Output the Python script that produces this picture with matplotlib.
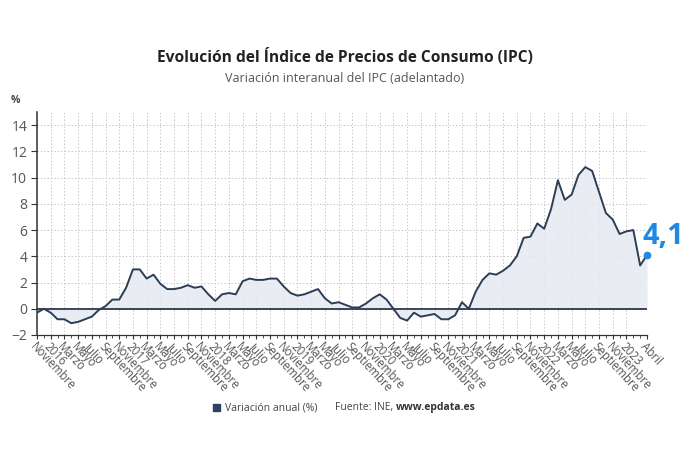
import matplotlib
matplotlib.use("Agg")
import matplotlib.pyplot as plt
from matplotlib.ticker import MultipleLocator

plt.rcParams["font.family"] = ["Open Sans", "DejaVu Sans"]

# Spanish CPI, year-on-year change (%), Nov 2015 .. Apr 2023 (monthly)
months_es = ["Enero", "Febrero", "Marzo", "Abril", "Mayo", "Junio", "Julio",
             "Agosto", "Septiembre", "Octubre", "Noviembre", "Diciembre"]
start_year, start_month = 2015, 11
ipc = [
    -0.3, 0.0,
    -0.3, -0.8, -0.8, -1.1, -1.0, -0.8, -0.6, -0.1, 0.2, 0.7, 0.7, 1.6,
    3.0, 3.0, 2.3, 2.6, 1.9, 1.5, 1.5, 1.6, 1.8, 1.6, 1.7, 1.1,
    0.6, 1.1, 1.2, 1.1, 2.1, 2.3, 2.2, 2.2, 2.3, 2.3, 1.7, 1.2,
    1.0, 1.1, 1.3, 1.5, 0.8, 0.4, 0.5, 0.3, 0.1, 0.1, 0.4, 0.8,
    1.1, 0.7, 0.0, -0.7, -0.9, -0.3, -0.6, -0.5, -0.4, -0.8, -0.8, -0.5,
    0.5, 0.0, 1.3, 2.2, 2.7, 2.6, 2.9, 3.3, 4.0, 5.4, 5.5, 6.5,
    6.1, 7.6, 9.8, 8.3, 8.7, 10.2, 10.8, 10.5, 8.9, 7.3, 6.8, 5.7,
    5.9, 6.0, 3.3, 4.1,
]
last_label = "4,1"

# tick labels: every two months, January shown as the year, plus the last month
x = list(range(len(ipc)))
tick_pos, tick_lab = [], []
for i in x:
    m = (start_month - 1 + i) % 12
    y = start_year + (start_month - 1 + i) // 12
    if i % 2 == 0 and i < len(ipc) - 2:
        tick_pos.append(i)
        tick_lab.append(str(y) if m == 0 else months_es[m])
tick_pos.append(len(ipc) - 1)
tick_lab.append(months_es[(start_month - 1 + len(ipc) - 1) % 12])

line_color = "#2b3e55"
fill_color = "#e6eaf1"
blue = "#1e88e5"
grey = "#555555"

fig = plt.figure(figsize=(6.9, 4.62), dpi=100)
ax = fig.add_axes([0.0536, 0.2749, 0.8841, 0.4827])

ax.fill_between(x, ipc, 0, color=fill_color, alpha=0.85, lw=0, zorder=1)
ax.plot(x, ipc, color=line_color, lw=1.4, zorder=3)
ax.axhline(0, color="#3a4656", lw=1.4, zorder=2)
ax.plot(x[-1], ipc[-1], "o", color=blue, ms=4.5, zorder=6, clip_on=False)
ax.text(x[-1] - 0.6, ipc[-1] + 0.3, last_label, color=blue, fontsize=21,
        fontweight="bold", ha="left", va="bottom", zorder=5, clip_on=False)

ax.set_xlim(0, len(ipc) - 1)
ax.set_ylim(-2, 15)
ax.yaxis.set_major_locator(MultipleLocator(2))
ax.set_yticks(range(-2, 15, 2))
ax.set_xticks(tick_pos)
ax.set_xticklabels(tick_lab, rotation=-47, ha="left", va="top",
                   rotation_mode="anchor", fontsize=8.3, color=grey)
ax.set_xticks(x, minor=True)
ax.tick_params(axis="y", labelsize=10, colors=grey, length=4, width=0.8,
               color="#333333", pad=3)
ax.tick_params(axis="x", length=3, width=0.8, color="#333333", pad=1)
ax.tick_params(axis="x", which="minor", length=2, width=0.6, color="#333333")

ax.grid(True, which="major", color="#c8c8c8", ls=(0, (1.5, 2)), lw=0.7)
ax.set_axisbelow(True)
for s in ("top", "right"):
    ax.spines[s].set_visible(False)
ax.spines["left"].set_color("#333333")
ax.spines["left"].set_linewidth(1.1)
ax.spines["left"].set_linestyle((0, (2, 1)))
ax.spines["bottom"].set_color("#333333")
ax.spines["bottom"].set_linewidth(0.9)
ax.spines["bottom"].set_linestyle((0, (2, 1)))

fig.text(0.5, 0.875, "Evolución del Índice de Precios de Consumo (IPC)",
         ha="center", va="center", fontsize=11.2, fontweight="bold", color="#222222")
fig.text(0.5, 0.83, "Variación interanual del IPC (adelantado)",
         ha="center", va="center", fontsize=9, color="#555555")
fig.text(0.022, 0.783, "%", ha="center", va="center", fontsize=7.5,
         fontweight="bold", color="#444444")

# legend / source line
fig.patches.append(plt.Rectangle((0.309, 0.110), 0.0095, 0.0145, color="#2c4361",
                                 transform=fig.transFigure, figure=fig))
fig.text(0.326, 0.117, "Variación anual (%)", ha="left", va="center",
         fontsize=7.5, color="#444444")
fig.text(0.4855, 0.117, "Fuente: INE,", ha="left", va="center",
         fontsize=7.5, color="#444444")
fig.text(0.574, 0.117, "www.epdata.es", ha="left", va="center",
         fontsize=7.5, fontweight="bold", color="#333333")

fig.savefig("out.png", dpi=100)
